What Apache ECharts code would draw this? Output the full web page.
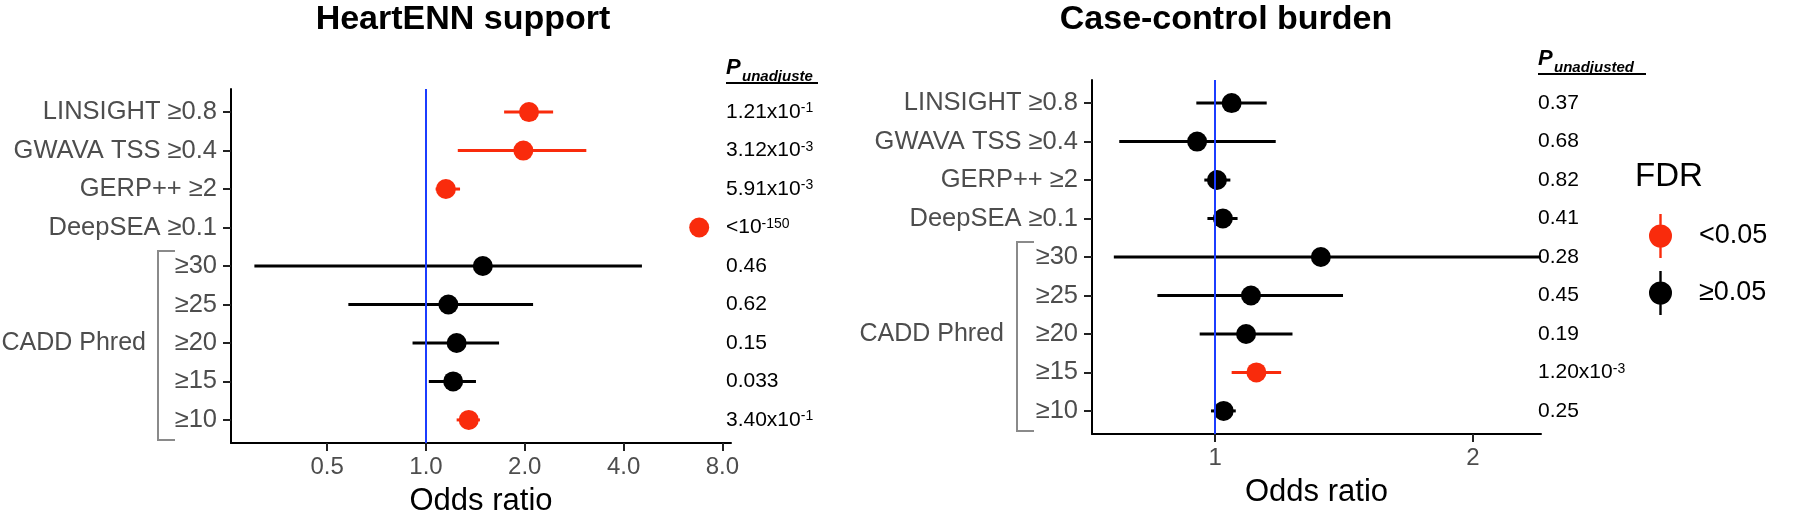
<!DOCTYPE html>
<html><head><meta charset="utf-8">
<script src="https://cdn.jsdelivr.net/npm/echarts@6/dist/echarts.min.js"></script>
<style>html,body{margin:0;padding:0;background:#fff}#c{width:1800px;height:519px}</style>
</head><body><div id="c"></div>
<script>
// ---------------- data ----------------
const categories = ["LINSIGHT ≥0.8","GWAVA TSS ≥0.4","GERP++ ≥2","DeepSEA ≥0.1","≥30","≥25","≥20","≥15","≥10"];
const groupLabel = "CADD Phred";

// HeartENN support (odds ratio, 95% CI, FDR<0.05 flag, unadjusted P)
const heartOR  = [2.06, 1.98, 1.15, 6.80, 1.49, 1.17, 1.24, 1.21, 1.35];
const heartLo  = [1.73, 1.25, 1.07, 6.60, 0.30, 0.58, 0.91, 1.02, 1.24];
const heartHi  = [2.44, 3.08, 1.27, 7.00, 4.55, 2.12, 1.67, 1.42, 1.46];
const heartSig = [1, 1, 1, 1, 0, 0, 0, 0, 1];
const heartP   = ["1.21x10^-1","3.12x10^-3","5.91x10^-3","<10^-150","0.46","0.62","0.15","0.033","3.40x10^-1"];

// Case-control burden
const ccOR  = [1.064, 0.93, 1.007, 1.03, 1.41, 1.139, 1.12, 1.16, 1.033];
const ccLo  = [0.927, 0.628, 0.958, 0.97, 0.607, 0.776, 0.94, 1.064, 0.984];
const ccHi  = [1.20, 1.235, 1.059, 1.087, 2.50, 1.496, 1.30, 1.256, 1.08];
const ccSig = [0, 0, 0, 0, 0, 0, 0, 1, 0];
const ccP   = ["0.37","0.68","0.82","0.41","0.28","0.45","0.19","1.20x10^-3","0.25"];

const heartTicks = [0.5, 1, 2, 4, 8];
const ccTicks = [1, 2];
const fdrLabels = ["<0.05", "≥0.05"];
const titles = ["HeartENN support", "Case-control burden"];
// ---------------------------------------

const FONT = "'Liberation Sans', Arial, Helvetica, sans-serif";
const RED = '#F92B0C', BLACK = '#000000', BLUE = '#1B3CFF', GREY_TXT = '#4D4D4D', BRACKET = '#8a8a8a';
const rows = categories.map((_, i) => i + 1);

function buildData(lo, hi, or, sig, want) {
  const out = [];
  for (let i = 0; i < or.length; i++) if (sig[i] === want) out.push([lo[i], hi[i], or[i], i + 1]);
  return out;
}
function renderItem(params, api) {
  const r = api.value(3);
  const a = api.coord([api.value(0), r]);
  const b = api.coord([api.value(1), r]);
  const c = api.coord([api.value(2), r]);
  const color = api.visual('color');
  return {type: 'group', children: [
    {type: 'line', shape: {x1: a[0], y1: a[1], x2: b[0], y2: b[1]}, style: {stroke: color, lineWidth: 3}},
    {type: 'circle', shape: {cx: c[0], cy: c[1], r: 10}, style: {fill: color}}
  ]};
}
function prSeries(name, color, xi, yi, data) {
  return {type: 'custom', name, xAxisIndex: xi, yAxisIndex: yi, clip: true, z: 3,
    itemStyle: {color}, encode: {x: [0, 1, 2], y: 3}, data, renderItem};
}
function vline(xi, yi) {
  return {type: 'line', xAxisIndex: xi, yAxisIndex: yi, data: [], silent: true, z: 1,
    markLine: {symbol: ['none', 'none'], silent: true, animation: false, label: {show: false},
      lineStyle: {color: BLUE, width: 2, type: 'solid'}, emphasis: {disabled: true}, data: [{xAxis: 1}]}};
}
function pFmt(s) { return s.replace(/\^(.+)$/, '{sup|$1}'); }

const axisLineStyle = {color: '#000', width: 2};
function yCat(grid) {
  return {type: 'value', gridIndex: grid, min: 0.4, max: 9.6, inverse: true,
    splitLine: {show: false},
    axisLine: {show: true, lineStyle: axisLineStyle},
    axisTick: {show: true, length: 8, lineStyle: {color: '#222', width: 2}, customValues: rows},
    axisLabel: {customValues: rows, formatter: v => categories[Math.round(v) - 1],
      fontSize: 25.5, color: GREY_TXT, fontFamily: FONT, margin: 14}};
}
function yP(grid, pArr, margin) {
  return {type: 'value', gridIndex: grid, position: 'right', min: 0.4, max: 9.6, inverse: true,
    splitLine: {show: false}, axisLine: {show: false}, axisTick: {show: false},
    axisLabel: {customValues: rows, formatter: v => pFmt(pArr[Math.round(v) - 1]),
      fontSize: 21, color: '#000', fontFamily: FONT, margin: margin,
      rich: {sup: {fontSize: 14, color: '#000', fontFamily: FONT, verticalAlign: 'top'}}}};
}

const chart = echarts.init(document.getElementById('c'));
const option = {
  animation: false,
  backgroundColor: '#fff',
  grid: [
    {left: 231, top: 89, width: 500, height: 354, outerBoundsMode: 'none'},
    {left: 1092, top: 80, width: 449, height: 354, outerBoundsMode: 'none'}
  ],
  xAxis: [
    {type: 'log', logBase: 2, gridIndex: 0, min: 0.2546, max: 8.5,
      splitLine: {show: false}, axisLine: {show: true, lineStyle: axisLineStyle},
      axisTick: {show: true, length: 8, lineStyle: {color: '#222', width: 2}, customValues: heartTicks},
      axisLabel: {customValues: heartTicks, formatter: v => Number(v).toFixed(1),
        fontSize: 24, color: GREY_TXT, fontFamily: FONT, margin: 12},
      name: 'Odds ratio', nameLocation: 'middle', nameGap: 43,
      nameTextStyle: {fontSize: 31, color: '#000', fontFamily: FONT}},
    {type: 'value', gridIndex: 1, min: 0.5223, max: 2.264,
      splitLine: {show: false}, axisLine: {show: true, lineStyle: axisLineStyle},
      axisTick: {show: true, length: 8, lineStyle: {color: '#222', width: 2}, customValues: ccTicks},
      axisLabel: {customValues: ccTicks, formatter: v => String(v),
        fontSize: 24, color: GREY_TXT, fontFamily: FONT, margin: 12},
      name: 'Odds ratio', nameLocation: 'middle', nameGap: 43,
      nameTextStyle: {fontSize: 31, color: '#000', fontFamily: FONT}}
  ],
  yAxis: [yCat(0), yP(0, heartP, -5), yCat(1), yP(1, ccP, -3)],
  legend: {orient: 'vertical', left: 1649, top: 214, itemWidth: 23, itemHeight: 44, itemGap: 13, padding: 0,
    selectedMode: false,
    data: fdrLabels.map(n => ({name: n, icon: 'path://M9.8,0h2.4v44h-2.4Z M-0.5,22a11.5,11.5 0 1,1 23,0a11.5,11.5 0 1,1 -23,0Z'})),
    textStyle: {fontSize: 27, color: '#000', fontFamily: FONT, padding: [0, 0, 0, 22]}},
  series: [
    vline(0, 0), vline(1, 2),
    prSeries(fdrLabels[0], RED, 0, 0, buildData(heartLo, heartHi, heartOR, heartSig, 1)),
    prSeries(fdrLabels[1], BLACK, 0, 0, buildData(heartLo, heartHi, heartOR, heartSig, 0)),
    prSeries(fdrLabels[0], RED, 1, 2, buildData(ccLo, ccHi, ccOR, ccSig, 1)),
    prSeries(fdrLabels[1], BLACK, 1, 2, buildData(ccLo, ccHi, ccOR, ccSig, 0))
  ]
};
chart.setOption(option);

// annotations positioned from the axes
const g = [];
const panels = [
  {grid: 0, yAxis: 0, left: 231, right: 731, top: 89, title: titles[0], titleX: 463, ulEnd: 818, clipW: 76},
  {grid: 1, yAxis: 2, left: 1092, right: 1541, top: 80, title: titles[1], titleX: 1226, ulEnd: 1646, clipW: 200}
];
panels.forEach((p, k) => {
  const yTop = chart.convertToPixel({yAxisIndex: p.yAxis}, 4.61);
  const yBot = chart.convertToPixel({yAxisIndex: p.yAxis}, 9.52);
  const yMid = chart.convertToPixel({yAxisIndex: p.yAxis}, 7);
  const bx = p.left - 73 - k * 2;
  g.push({type: 'polyline', silent: true, shape: {points: [[bx + 17, yTop], [bx, yTop], [bx, yBot], [bx + 17, yBot]]},
    style: {stroke: BRACKET, lineWidth: 2, fill: null}});
  g.push({type: 'text', silent: true, x: p.left - 85 - k * 3, y: yMid,
    style: {text: groupLabel, fontSize: 25, fill: GREY_TXT, fontFamily: FONT, align: 'right', verticalAlign: 'middle'}});
  g.push({type: 'text', silent: true, x: p.titleX, y: 20,
    style: {text: p.title, fontSize: 34, fontWeight: 'bold', fill: '#000', fontFamily: FONT, align: 'center', verticalAlign: 'middle'}});
  const px = p.right - 5 + k * 2;
  g.push({type: 'text', silent: true, x: px, y: p.top - 10,
    style: {text: 'P', fontSize: 22, fontWeight: 'bold', fontStyle: 'italic', fill: '#000', fontFamily: FONT, align: 'left', verticalAlign: 'bottom'}});
  g.push({type: 'text', silent: true, x: px + 16, y: p.top - 5,
    style: {text: 'unadjusted', fontSize: 15, fontWeight: 'bold', fontStyle: 'italic', fill: '#000', fontFamily: FONT,
      align: 'left', verticalAlign: 'bottom', width: p.clipW, overflow: 'truncate', ellipsis: ''}});
  g.push({type: 'line', silent: true, shape: {x1: px, y1: p.top - 6, x2: p.ulEnd, y2: p.top - 6},
    style: {stroke: '#000', lineWidth: 2}});
});
g.push({type: 'text', silent: true, x: 1635, y: 177,
  style: {text: 'FDR', fontSize: 33, fill: '#000', fontFamily: FONT, align: 'left', verticalAlign: 'middle'}});
chart.setOption({graphic: g});
</script>
</body></html>
